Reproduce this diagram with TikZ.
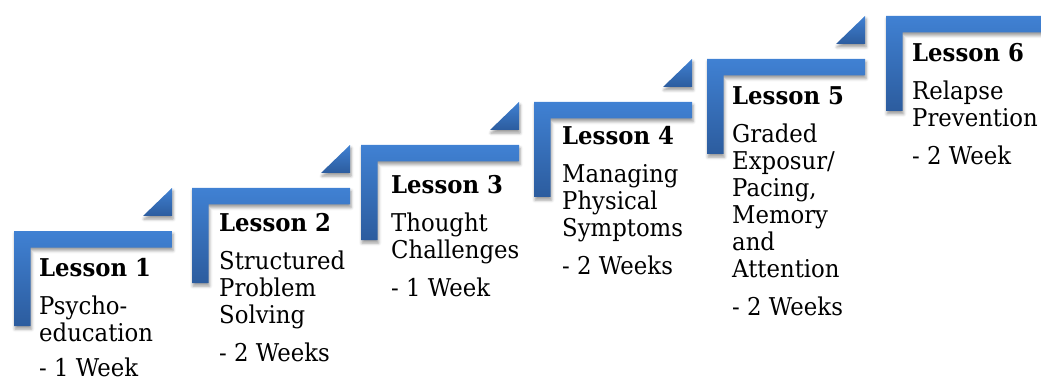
\documentclass[tikz,border=0pt]{standalone}
\usepackage{fontspec}
\setmainfont[FakeStretch=0.93]{DejaVu Serif}
\usetikzlibrary{shadows.blur}

\definecolor{stepTop}{RGB}{64,129,211}
\definecolor{stepBot}{RGB}{44,92,158}

% stacked text block: first baseline is the block's baseline
\newcommand\steplines[1]{\vtop{\baselineskip=27pt\lineskiplimit=-100pt\lineskip=0pt #1}}
\newcommand\sline[1]{\hbox{#1}}
\newcommand\sgap{\vskip 11pt}

\tikzset{
  stepfill/.style={top color=stepTop, bottom color=stepBot,
    blur shadow={shadow xshift=1pt, shadow yshift=-3pt,
                 shadow blur radius=3pt, shadow opacity=40}},
  steplabel/.style={anchor=base west, inner sep=0pt,
    font=\fontsize{24.5}{27}\selectfont}
}

% L-shaped step: #1 = left x, #2 = top y
\newcommand\stepL[2]{%
  \path[stepfill] (#1,#2) -- ++(158,0) -- ++(0,16.5) -- ++(-141.5,0)
    -- ++(0,78.5) -- ++(-16.5,0) -- cycle;}
% corner triangle of a step
\newcommand\stepT[2]{%
  \path[stepfill] (#1+129,#2-15) -- ++(29,0) -- ++(0,-28) -- cycle;}

\begin{document}
\begin{tikzpicture}[x=1pt,y=-1pt]
\useasboundingbox (0,0) rectangle (1041,382);

\stepL{14}{231}  \stepT{14}{231}
\stepL{192}{188} \stepT{192}{188}
\stepL{361}{145} \stepT{361}{145}
\stepL{534}{102} \stepT{534}{102}
\stepL{707}{59}  \stepT{707}{59}
\stepL{886}{16}

\node[steplabel] (s1) at (39,276) {\steplines{%
  \sline{\textbf{Lesson 1}}\sgap
  \sline{Psycho-}\sline{education}\vskip 8pt
  \sline{- 1 Week}}};
\node[steplabel] (s2) at (219,231.7) {\steplines{%
  \sline{\textbf{Lesson 2}}\sgap
  \sline{Structured}\sline{Problem}\sline{Solving}\sgap
  \sline{- 2 Weeks}}};
\node[steplabel] (s3) at (391,193.3) {\steplines{%
  \sline{\textbf{Lesson 3}}\sgap
  \sline{Thought}\sline{Challenges}\sgap
  \sline{- 1 Week}}};
\node[steplabel] (s4) at (562,144.3) {\steplines{%
  \sline{\textbf{Lesson 4}}\sgap
  \sline{Managing}\sline{Physical}\sline{Symptoms}\sgap
  \sline{- 2 Weeks}}};
\node[steplabel] (s5) at (732,104.3) {\steplines{%
  \sline{\textbf{Lesson 5}}\sgap
  \sline{Graded}\sline{Exposur/}\sline{Pacing,}\sline{Memory}\sline{and}\sline{Attention}\sgap
  \sline{- 2 Weeks}}};
\node[steplabel] (s6) at (912,61.7) {\steplines{%
  \sline{\textbf{Lesson 6}}\sgap
  \sline{Relapse}\sline{Prevention}\sgap
  \sline{- 2 Week}}};
\end{tikzpicture}
\end{document}
